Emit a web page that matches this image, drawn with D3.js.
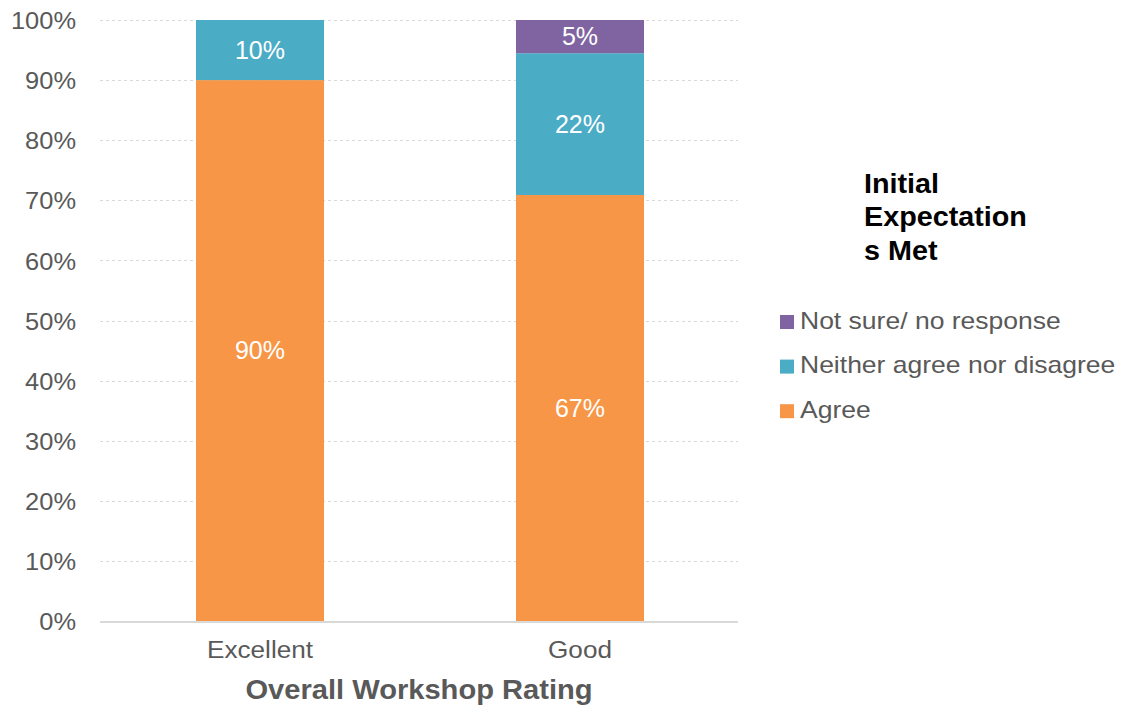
<!DOCTYPE html>
<html>
<head>
<meta charset="utf-8">
<script src="https://cdn.jsdelivr.net/npm/d3@7/dist/d3.min.js"></script>
<style>
  html, body { margin: 0; padding: 0; background: #fff; }
  svg text { font-family: "Liberation Sans", Arial, sans-serif; }
</style>
</head>
<body>
<svg id="chart" width="1126" height="713"></svg>
<script>
// ---- data ----
const categories = ["Excellent", "Good"];
const seriesNames = ["Agree", "Neither agree nor disagree", "Not sure/ no response"];
const agree   = [90, 66.7];
const neither = [10, 22.2];
const notSure = [0, 5.2];
const yTickValues = [0, 0.1, 0.2, 0.3, 0.4, 0.5, 0.6, 0.7, 0.8, 0.9, 1.0];
const legendTitleLines = ["Initial", "Expectation", "s Met"];
const xAxisTitle = "Overall Workshop Rating";
const colors = ["#F79646", "#4BACC6", "#8064A2"];

const rows = categories.map((c, i) => ({
  cat: c, "Agree": agree[i], "Neither agree nor disagree": neither[i], "Not sure/ no response": notSure[i]
}));

const svg = d3.select("#chart");
const margin = {left: 100, right: 386, top: 20, bottom: 92};
const W = 1126, H = 713;
const x = d3.scaleBand().domain(categories).range([margin.left, W - margin.right])
  .paddingInner(0.6).paddingOuter(0.3);
const y = d3.scaleLinear().domain([0, 1]).range([H - margin.bottom, margin.top]);
const color = d3.scaleOrdinal().domain(seriesNames).range(colors);

const stack = d3.stack().keys(seriesNames).offset(d3.stackOffsetExpand);
const stacked = stack(rows);

// horizontal stretch helper (reference text is slightly wide)
function stretch(sel, sx) {
  sel.each(function() {
    const t = d3.select(this);
    const tx = +t.attr("x") || 0, ty = +t.attr("y") || 0;
    t.attr("transform", `translate(${tx},${ty}) scale(${sx},1) translate(${-tx},${-ty})`);
  });
}

// gridlines
svg.append("g").selectAll("line").data(yTickValues.filter(v => v > 0)).join("line")
  .attr("x1", margin.left).attr("x2", W - margin.right - 2)
  .attr("y1", d => Math.round(y(d)) + 0.5).attr("y2", d => Math.round(y(d)) + 0.5)
  .attr("stroke", "#D9D9D9").attr("stroke-width", 1).attr("stroke-dasharray", "3,3");

// bars
const g = svg.append("g");
stacked.forEach(layer => {
  g.append("g").attr("fill", color(layer.key)).selectAll("rect").data(layer).join("rect")
    .attr("x", d => x(d.data.cat))
    .attr("width", x.bandwidth())
    .attr("y", d => y(d[1]))
    .attr("height", d => Math.max(0, y(d[0]) - y(d[1])));
  g.append("g").selectAll("text").data(layer.filter(d => d.data[layer.key] > 0)).join("text")
    .attr("x", d => x(d.data.cat) + x.bandwidth() / 2)
    .attr("y", d => (y(d[0]) + y(d[1])) / 2)
    .attr("dy", "0.35em")
    .attr("text-anchor", "middle")
    .attr("fill", "#fff")
    .attr("font-size", 25)
    .text(d => Math.round(d.data[layer.key]) + "%");
});

// x axis line
svg.append("line").attr("x1", margin.left).attr("x2", W - margin.right - 2)
  .attr("y1", y(0) + 1).attr("y2", y(0) + 1)
  .attr("stroke", "#D9D9D9").attr("stroke-width", 2);

// y axis
const yAxis = d3.axisLeft(y).tickValues(yTickValues).tickFormat(d3.format(".0%")).tickSize(0).tickPadding(24);
const yg = svg.append("g").attr("transform", `translate(${margin.left},0)`).call(yAxis);
yg.select(".domain").remove();
yg.selectAll("text").attr("font-size", 24).attr("fill", "#595959")
  .attr("font-family", "Liberation Sans, Arial, sans-serif").attr("dy", "0.36em")
  .call(stretch, 1.06);

// x axis
const xAxis = d3.axisBottom(x).tickSize(0).tickPadding(20);
const xg = svg.append("g").attr("transform", `translate(0,${y(0)})`).call(xAxis);
xg.select(".domain").remove();
xg.selectAll("text").attr("font-size", 24).attr("fill", "#595959")
  .attr("font-family", "Liberation Sans, Arial, sans-serif").attr("dy", "0.71em")
  .call(stretch, 1.09);

// x axis title
svg.append("text").attr("x", (margin.left + W - margin.right) / 2 - 1).attr("y", 699)
  .attr("text-anchor", "middle").attr("font-size", 28).attr("font-weight", "bold")
  .attr("fill", "#595959").text(xAxisTitle).call(stretch, 1.04);

// legend title
svg.append("g").selectAll("text").data(legendTitleLines).join("text")
  .attr("x", 864).attr("y", (d, i) => 193 + i * 33.5)
  .attr("font-size", 27).attr("font-weight", "bold").attr("fill", "#000")
  .text(d => d).call(stretch, 1.065);

// legend items (reverse order)
const legendItems = seriesNames.slice().reverse();
const lg = svg.append("g").selectAll("g").data(legendItems).join("g")
  .attr("transform", (d, i) => `translate(780,${315 + i * 44.6})`);
lg.append("rect").attr("width", 14).attr("height", 14).attr("fill", d => color(d));
lg.append("text").attr("x", 20).attr("y", 13.5).attr("font-size", 24).attr("fill", "#595959")
  .text(d => d).call(stretch, 1.105);
</script>
</body>
</html>
